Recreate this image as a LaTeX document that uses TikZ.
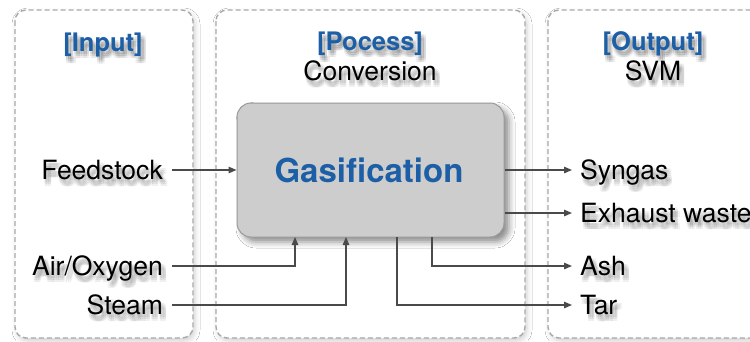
\documentclass[tikz,border=0pt]{standalone}
\usepackage{fontspec}
\setmainfont{TeX Gyre Heros}
\usetikzlibrary{arrows.meta,shadows.blur,calc}

\definecolor{titleblue}{HTML}{1D5FA6}
\definecolor{wire}{HTML}{4A4A4A}
\definecolor{boxfill}{HTML}{CDCDCD}
\definecolor{boxedge}{HTML}{9A9A9A}
\definecolor{frameedge}{HTML}{A8A8A8}

% a text label with a soft drop shadow underneath
\newcommand\softlabel[4]{% name, position, options, text
  \foreach \dx/\dy in {1/3,3/3,5/3,1/5,3/5,5/5,1/7,3/7,5/7}
    \node[#3, text=black, opacity=0.055] at ($(#2)+(\dx,\dy)$) {#4};
  \node[#3] (#1) at (#2) {#4};
}

\tikzset{
  lbl/.style={inner sep=0pt, font=\fontsize{26.5}{30}\selectfont, text height=19pt, text depth=0pt},
  ttl/.style={inner sep=0pt, font=\bfseries\fontsize{25.5}{30}\selectfont, text=titleblue, text height=18pt, text depth=0pt},
  stage/.style={draw=frameedge, line width=1.4pt, dash pattern=on 5pt off 3pt,
    rounded corners=11pt, fill=white,
    blur shadow={shadow xshift=2pt, shadow yshift=-3pt, shadow blur radius=5pt, shadow opacity=18}},
  flow/.style={draw=wire, line width=1.3pt, -{Triangle[length=8pt,width=6.5pt]}},
}

\begin{document}
\begin{tikzpicture}[x=1pt,y=-1pt]
  \useasboundingbox (0,0) rectangle (750,341);
  \clip (0,0) rectangle (750,341);
  \fill[white] (0,0) rectangle (750,341);

  % three stage frames
  \draw[stage] (15,10) rectangle (193,338);
  \draw[stage] (216,10) rectangle (525,338);
  \draw[stage] (548,10) rectangle (790,338);

  % stage headings
  \softlabel{tin}{103,42}{ttl}{[Input]}
  \softlabel{tproc}{370,41}{ttl}{[Pocess]}
  \softlabel{tconv}{370,71}{lbl}{Conversion}
  \softlabel{tout}{653,41}{ttl}{[Output]}
  \softlabel{tsvm}{653,71}{lbl}{SVM}

  % central process block
  \node[draw=boxedge, line width=1pt, fill=boxfill, rounded corners=14pt,
        minimum width=267pt, minimum height=134pt, inner sep=0pt,
        blur shadow={shadow xshift=5pt, shadow yshift=-5pt, shadow blur radius=6pt, shadow opacity=45}]
        (gas) at (370.5,170) {};
  \node[inner sep=0pt, font=\bfseries\fontsize{33}{36}\selectfont, text=titleblue,
        text height=24pt, text depth=0pt] (gastxt) at (369,170) {Gasification};

  % inputs
  \softlabel{feed}{163,170}{lbl, anchor=east}{Feedstock}
  \softlabel{air}{163,266}{lbl, anchor=east}{Air/Oxygen}
  \softlabel{steam}{163,305}{lbl, anchor=east}{Steam}

  % outputs
  \softlabel{syn}{580,170}{lbl, anchor=west}{Syngas}
  \softlabel{exh}{580,213}{lbl, anchor=west}{Exhaust waste}
  \softlabel{ash}{580,266}{lbl, anchor=west}{Ash}
  \softlabel{tar}{580,305}{lbl, anchor=west}{Tar}

  % docking points on the process block
  \coordinate (airin) at (295,237);
  \coordinate (steamin) at (346,237);
  \coordinate (tarout) at (397,237);
  \coordinate (ashout) at (432,237);

  % connectors into the block
  \draw[flow] ([xshift=9pt]feed.east) -- (gas.west |- feed.east);
  \draw[flow] ([xshift=9pt]air.east) -| (airin);
  \draw[flow] ([xshift=9pt]steam.east) -| (steamin);

  % connectors out of the block
  \draw[flow] (gas.east |- syn.west) -- ([xshift=-8pt]syn.west);
  \draw[flow] (gas.east |- exh.west) -- ([xshift=-8pt]exh.west);
  \draw[flow] (ashout) |- ([xshift=-8pt]ash.west);
  \draw[flow] (tarout) |- ([xshift=-8pt]tar.west);
\end{tikzpicture}
\end{document}
